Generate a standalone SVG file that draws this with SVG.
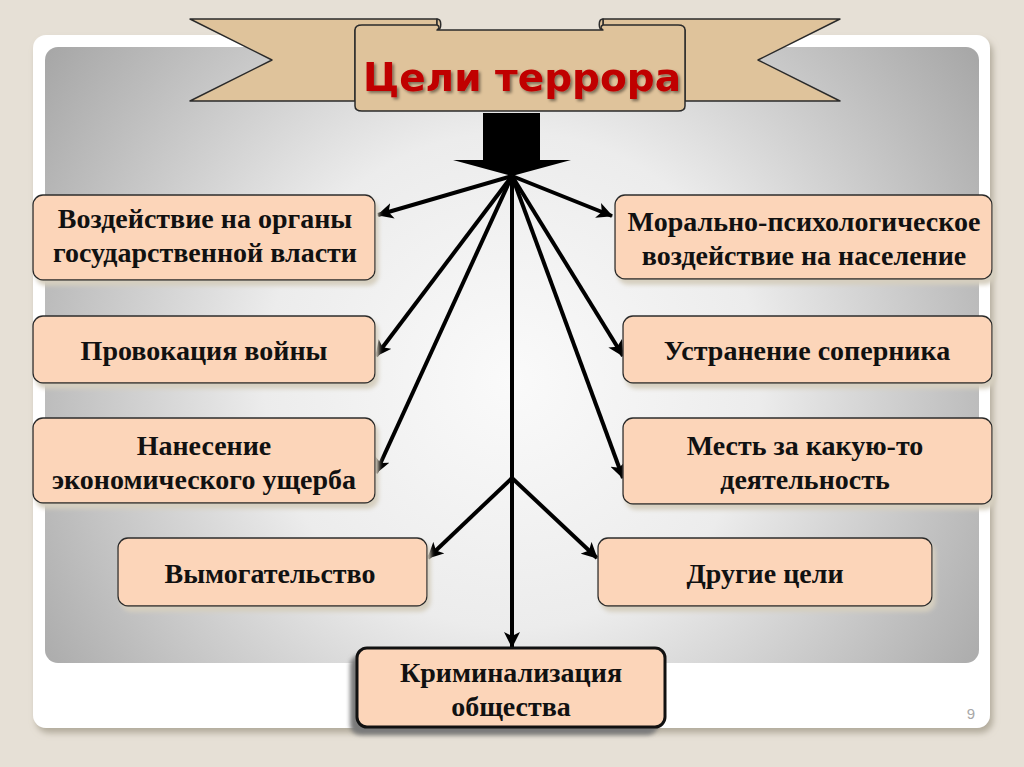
<svg xmlns="http://www.w3.org/2000/svg" width="1024" height="767" viewBox="0 0 1024 767">
<defs>
<style>
.box{fill:#fcd5b9;stroke:#2a2a2a;stroke-width:1.3;filter:url(#bs)}
.t{font-family:"Liberation Serif","Times New Roman",serif;font-weight:bold;font-size:28px;fill:#111;text-anchor:middle}
.c{stroke:#000;stroke-width:4;fill:none;marker-end:url(#ah)}
.rib{fill:#dfc39b;stroke:#2b2b2b;stroke-width:1.5;stroke-linejoin:round}
</style>
<radialGradient id="pg" gradientUnits="userSpaceOnUse" cx="512" cy="380" r="620">
<stop offset="0" stop-color="#fafafa"/>
<stop offset="0.4" stop-color="#ececec"/>
<stop offset="0.75" stop-color="#bdbdbd"/>
<stop offset="1" stop-color="#9c9c9c"/>
</radialGradient>
<filter id="fs" x="-5%" y="-5%" width="110%" height="112%">
<feDropShadow dx="3" dy="5" stdDeviation="3" flood-color="#9d9584" flood-opacity="0.7"/>
</filter>
<filter id="bs" x="-5%" y="-10%" width="115%" height="130%">
<feDropShadow dx="3" dy="5" stdDeviation="2" flood-color="#d6cfbf" flood-opacity="1"/>
</filter>
<filter id="ts" x="-5%" y="-10%" width="110%" height="130%">
<feDropShadow dx="2" dy="2" stdDeviation="1.5" flood-color="#000" flood-opacity="0.45"/>
</filter>
<filter id="ks" x="-10%" y="-10%" width="120%" height="130%">
<feGaussianBlur stdDeviation="2"/>
</filter>
<marker id="ah" markerUnits="userSpaceOnUse" markerWidth="18" markerHeight="16" refX="15" refY="8" orient="auto">
<path d="M0,0 L16,8 L0,16 L4,8 Z" fill="#000"/>
</marker>
</defs>

<rect x="0" y="0" width="1024" height="767" fill="#e6e0d6"/>
<g id="frame">
<rect x="33" y="35" width="957" height="693" rx="13" fill="#ffffff" filter="url(#fs)"/>
<rect x="45" y="47" width="934" height="616" rx="13" fill="url(#pg)"/>
<text x="971" y="719" font-family="Liberation Sans,Arial,sans-serif" font-size="15" fill="#a8a8a8" text-anchor="middle">9</text>
</g>

<g id="title">
<polygon class="rib" points="190,19 437,19 437,30 355,30 355,101 190,101 272,60"/>
<polygon class="rib" points="840,19 603,19 603,30 685,30 685,101 840,101 758,60"/>
<path class="rib" d="M437,19 C442,19 442,30 437,30 Z"/>
<path class="rib" d="M603,19 C598,19 598,30 603,30 Z"/>
<path class="rib" d="M355,30 Q355,25 362,25 L437,25 Q441,27 437,30 L603,30 Q599,27 603,25 L678,25 Q685,25 685,30 L685,106 Q685,111 678,111 L362,111 Q355,111 355,106 Z"/>
<text x="522" y="91" font-family="DejaVu Sans,Verdana,sans-serif" font-weight="bold" font-size="39" fill="#c00000" text-anchor="middle" filter="url(#ts)">Цели террора</text>
</g>

<g id="block-arrow">
<polygon points="483,113 540,113 540,160 571,160 512,176 453,160 483,160" fill="#000"/>
</g>

<g id="connectors">
<line class="c" x1="512" y1="176" x2="378" y2="215"/>
<line class="c" x1="512" y1="176" x2="376" y2="356"/>
<line class="c" x1="512" y1="176" x2="376" y2="473"/>
<line class="c" x1="512" y1="176" x2="612" y2="216"/>
<line class="c" x1="512" y1="176" x2="623" y2="356"/>
<line class="c" x1="512" y1="176" x2="623" y2="478"/>
<line class="c" x1="512" y1="176" x2="512" y2="647"/>
<line class="c" x1="512" y1="478" x2="428" y2="558"/>
<line class="c" x1="512" y1="478" x2="597" y2="558"/>
</g>

<g id="n1">
<rect class="box" x="33" y="195" width="342" height="85" rx="10"/>
<text class="t" x="205" y="228">Воздействие на органы</text>
<text class="t" x="205" y="262">государственной власти</text>
</g>
<g id="n2">
<rect class="box" x="33" y="316" width="342" height="67" rx="10"/>
<text class="t" x="204" y="360">Провокация войны</text>
</g>
<g id="n3">
<rect class="box" x="33" y="418" width="342" height="85" rx="10"/>
<text class="t" x="204" y="455">Нанесение</text>
<text class="t" x="204" y="489">экономического ущерба</text>
</g>
<g id="n4">
<rect class="box" x="118" y="538" width="309" height="68" rx="10"/>
<text class="t" x="270" y="583">Вымогательство</text>
</g>
<g id="n5">
<rect class="box" x="615" y="195" width="377" height="84" rx="10"/>
<text class="t" x="804" y="231">Морально-психологическое</text>
<text class="t" x="804" y="265">воздействие на население</text>
</g>
<g id="n6">
<rect class="box" x="623" y="316" width="369" height="67" rx="10"/>
<text class="t" x="807" y="360">Устранение соперника</text>
</g>
<g id="n7">
<rect class="box" x="623" y="418" width="369" height="86" rx="10"/>
<text class="t" x="805" y="455">Месть за какую-то</text>
<text class="t" x="805" y="489">деятельность</text>
</g>
<g id="n8">
<rect class="box" x="598" y="538" width="334" height="68" rx="10"/>
<text class="t" x="765" y="583">Другие цели</text>
</g>
<g id="n9">
<rect x="350" y="655" width="308" height="80" rx="10" fill="#7a7a7a" filter="url(#ks)"/>
<rect x="357" y="648" width="308" height="79" rx="10" fill="#fcd5b9" stroke="#111" stroke-width="3"/>
<text class="t" x="511" y="682">Криминализация</text>
<text class="t" x="511" y="716">общества</text>
</g>
</svg>
